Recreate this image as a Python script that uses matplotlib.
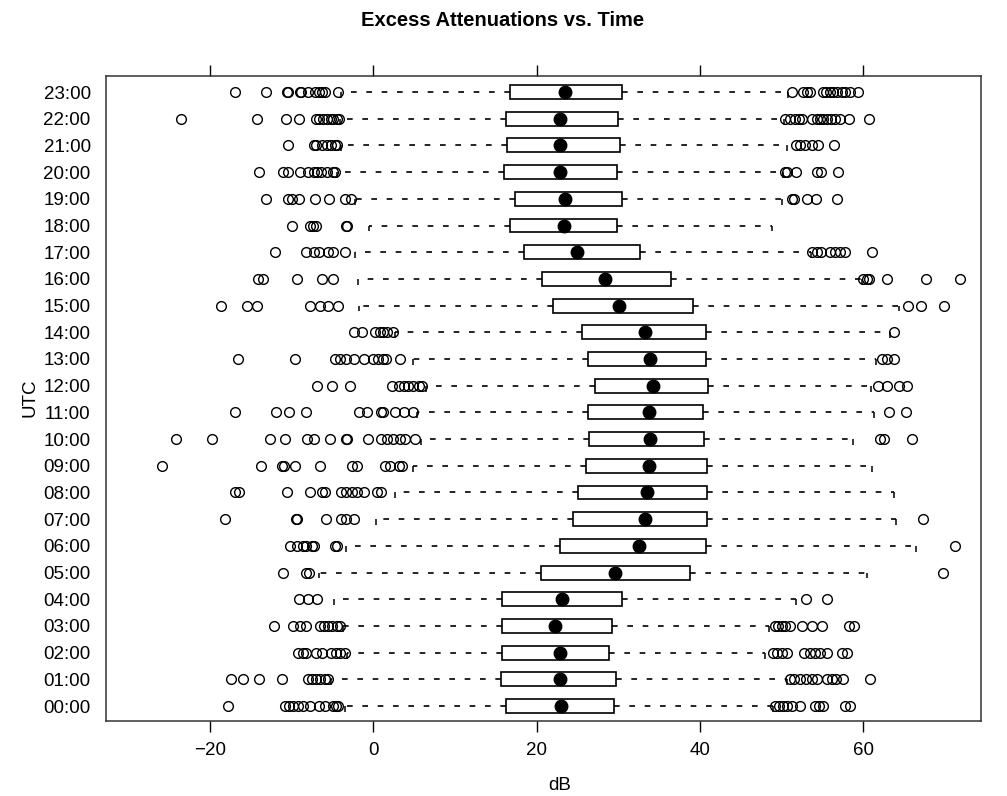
import numpy as np
import matplotlib.pyplot as plt

plt.rcParams['font.family'] = ['Liberation Sans', 'DejaVu Sans']

hours = ['%02d:00' % h for h in range(24)]

# box stats per hour (dB)
whislo = [-3.5, -5.2, -3.2, -3.7, -4.8, -6.6, -3.3, 0.3, 2.7, 4.9, 5.8, 5.3,
          6.5, 4.8, 2.7, -1.8, -1.9, -2.2, -0.5, -2.3, -4.4, -4.0, -4.1, -4.0]
q1 = [16.2, 15.6, 15.8, 15.8, 15.7, 20.5, 22.9, 24.4, 25.0, 26.0, 26.4, 26.3,
      27.2, 26.3, 25.5, 22.0, 20.7, 18.4, 16.7, 17.3, 16.0, 16.4, 16.3, 16.7]
med = [23.0, 22.8, 22.9, 22.2, 23.1, 29.6, 32.5, 33.3, 33.5, 33.7, 33.9, 33.7,
       34.2, 33.9, 33.3, 30.1, 28.4, 24.9, 23.3, 23.5, 22.9, 22.9, 22.9, 23.5]
q3 = [29.5, 29.7, 28.8, 29.2, 30.5, 38.8, 40.7, 40.9, 40.9, 40.8, 40.5, 40.4,
      41.0, 40.7, 40.7, 39.1, 36.4, 32.6, 29.8, 30.4, 29.8, 30.2, 30.0, 30.5]
whishi = [48.9, 50.7, 48.0, 48.4, 51.8, 60.4, 66.4, 64.0, 63.8, 61.0, 58.7, 61.3,
          60.9, 61.6, 63.2, 64.3, 59.8, 53.6, 48.8, 50.0, 50.2, 50.7, 50.3, 50.8]

outliers = [
    [-17.8, -10.8, -10.3, -9.8, -9.2, -8.6, -7.8, -6.7, -5.9, -4.9, -4.6, -4.3,
     49.2, 49.7, 50.2, 50.7, 51.2, 52.2, 54.1, 54.6, 55.1, 57.8, 58.4],
    [-17.4, -16.0, -14.0, -11.2, -8.0, -7.5, -7.0, -6.5, -5.9, -5.5,
     51.0, 51.5, 52.2, 53.0, 53.7, 54.3, 55.5, 56.1, 56.7, 57.5, 60.8],
    [-9.2, -8.6, -8.2, -7.0, -6.3, -5.2, -4.6, -4.1, -3.5,
     48.9, 49.4, 50.0, 50.6, 52.7, 53.5, 54.1, 54.7, 55.5, 57.4, 58.0],
    [-12.2, -9.8, -9.0, -8.2, -6.5, -6.0, -5.5, -5.0, -4.5, -4.1,
     49.2, 49.6, 50.0, 50.4, 51.0, 52.5, 53.7, 54.9, 58.2, 58.8],
    [-9.1, -8.0, -6.9, 53.0, 55.6],
    [-11.1, -8.3, -7.9, 69.8],
    [-10.2, -9.4, -8.6, -8.2, -7.5, -7.3, -4.7, -4.4, 71.2],
    [-18.2, -9.5, -9.4, -5.8, -3.9, -3.3, -2.4, 67.3],
    [-16.9, -16.5, -10.6, -7.7, -6.3, -5.9, -3.9, -3.3, -2.6, -2.0, -1.2, 0.4, 0.9],
    [-25.9, -13.7, -11.2, -10.9, -9.6, -6.5, -2.6, -2.0, 1.4, 2.0, 3.1, 3.5],
    [-24.1, -19.8, -12.6, -10.8, -8.1, -7.3, -5.3, -3.3, -3.2, -0.6, 1.0, 1.7,
     2.4, 3.3, 3.9, 5.1, 62.0, 62.5, 65.9],
    [-16.9, -11.9, -10.3, -8.2, -1.7, -0.8, 0.9, 1.2, 2.7, 3.7, 4.9, 63.1, 65.2],
    [-6.9, -5.0, -2.8, 2.3, 3.1, 3.7, 4.3, 4.9, 5.6, 5.9,
     61.8, 62.9, 64.3, 65.4],
    [-16.6, -9.6, -4.7, -4.1, -3.3, -2.4, -1.2, 0.0, 0.6, 1.2, 1.6, 3.3,
     62.3, 62.9, 63.7],
    [-2.4, -1.4, 0.2, 0.8, 1.2, 1.7, 2.4, 63.7],
    [-18.6, -15.5, -14.3, -7.8, -6.5, -5.5, -4.3, 65.5, 67.1, 69.9],
    [-14.1, -13.5, -9.4, -6.3, -4.9, 60.0, 60.4, 60.7, 62.9, 67.7, 71.8],
    [-12.0, -8.2, -7.3, -6.7, -5.5, -4.9, -3.5,
     53.7, 54.3, 54.8, 55.9, 56.5, 57.1, 57.8, 61.0],
    [-9.9, -7.8, -7.4, -7.0, -3.3, -3.2],
    [-13.2, -10.4, -10.0, -9.1, -7.1, -5.4, -3.5, -2.7,
     51.2, 51.5, 53.1, 54.2, 56.8],
    [-14.0, -11.0, -10.4, -9.0, -8.0, -7.3, -6.9, -6.4, -5.7, -4.9, -4.7,
     50.4, 50.7, 51.8, 54.3, 54.8, 56.9],
    [-10.4, -7.3, -7.0, -6.3, -5.7, -5.2, -4.7, -4.4,
     51.8, 52.2, 52.9, 53.7, 54.5, 56.4],
    [-23.6, -14.3, -10.7, -9.1, -7.0, -6.6, -6.2, -5.7, -5.2, -4.9, -4.5, -4.2,
     50.4, 51.0, 51.6, 52.1, 52.5, 53.7, 54.3, 54.7, 55.1, 55.5, 56.0, 56.5,
     57.1, 58.2, 60.7],
    [-16.9, -13.2, -10.6, -10.4, -9.0, -8.8, -8.0, -7.1, -6.7, -6.3, -5.9, -4.3,
     51.2, 52.6, 53.1, 53.5, 55.0, 55.4, 55.9, 56.3, 56.8, 57.4, 57.8, 58.4, 59.4],
]

stats = []
for i in range(len(hours)):
    stats.append(dict(whislo=whislo[i], q1=q1[i], med=med[i], q3=q3[i],
                      whishi=whishi[i], fliers=outliers[i], label=hours[i]))

fig = plt.figure(figsize=(10.07, 7.96), dpi=100)
ax = fig.add_axes([106 / 1007, 1 - 721 / 796, 875 / 1007, 645 / 796])

pos = np.arange(len(hours))
ax.bxp(stats, positions=pos, widths=0.52, orientation='horizontal',
       showcaps=False, patch_artist=True,
       boxprops=dict(facecolor='white', edgecolor='black', linewidth=1.2),
       whiskerprops=dict(color='black', linewidth=1.2, linestyle=(0, (3.4, 5.8))),
       medianprops=dict(linewidth=0),
       flierprops=dict(marker='o', markerfacecolor='none', markeredgecolor='black',
                       markersize=7, markeredgewidth=1.0))
# whisker ends and median dots
ax.vlines(whislo, pos - 0.22, pos, color='black', linewidth=1.1)
ax.vlines(whishi, pos - 0.22, pos, color='black', linewidth=1.1)
ax.plot(med, pos, 'o', color='black', markersize=9, zorder=5)

ax.set_xlim(-32.73, 74.4)
ax.set_ylim(-0.56, 23.6)
ax.set_yticks(pos)
ax.set_yticklabels(hours)
ax.set_xticks([-20, 0, 20, 40, 60])
ax.set_xticklabels(['\u221220', '0', '20', '40', '60'])
ax.tick_params(axis='y', length=0, pad=11, labelsize=13.5)
ax.tick_params(axis='x', length=8, width=1.0, top=True, pad=7, labelsize=13.5)
for s in ax.spines.values():
    s.set_linewidth(1.1)
    s.set_color('#333333')

fig.text(503 / 1007, 1 - 21 / 796, 'Excess Attenuations vs. Time',
         ha='center', va='center', fontsize=14.5, fontweight='bold')
fig.text(560 / 1007, 1 - 785 / 796, 'dB', ha='center', va='center', fontsize=13.5)
fig.text(30 / 1007, 1 - 398 / 796, 'UTC', ha='center', va='center',
         fontsize=13.5, rotation=90)

fig.savefig('out.png', dpi=100)
